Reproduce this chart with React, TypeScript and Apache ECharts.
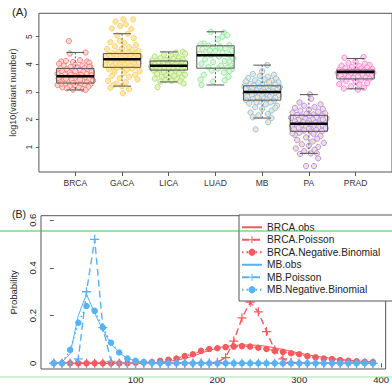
import React, { useEffect, useRef } from "react";
import * as echarts from "echarts";

// ---------- Panel A data ----------
const categories = ["BRCA", "GACA", "LICA", "LUAD", "MB", "PA", "PRAD"];
const boxMin = [3.07, 3.21, 3.36, 3.25, 2.05, 0.77, 3.11];
const boxQ1 = [3.32, 3.89, 3.79, 3.86, 2.7, 1.57, 3.47];
const boxMed = [3.57, 4.18, 3.95, 4.33, 3.0, 1.84, 3.72];
const boxQ3 = [3.85, 4.39, 4.12, 4.67, 3.22, 2.15, 3.79];
const boxMax = [4.43, 5.11, 4.45, 5.18, 3.97, 2.9, 4.21];
const yTicksA = [1, 2, 3, 4, 5];

// jittered points: [horizontal jitter, log10(variant number)]
const brcaPts = [[-0.14,4.84],[0.22,4.43],[-0.12,4.39],[-0.3,4.1],[-0.2,4.12],[-0.05,4.08],[0.1,4.15],[0.25,4.1],[0.3,4.05],[-0.35,4.02],[0,3.98],[0.15,3.95],[-0.25,3.95],[0.32,3.92],[-0.1,3.9],[0.05,3.88],[0.2,3.86],[-0.32,3.85],[-0.18,3.82],[0.1,3.8],[0.28,3.78],[-0.05,3.77],[-0.28,3.75],[0.17,3.73],[0.35,3.72],[-0.12,3.7],[0.02,3.68],[-0.38,3.66],[0.24,3.65],[-0.22,3.63],[0.12,3.61],[-0.02,3.6],[0.33,3.58],[-0.3,3.57],[0.07,3.55],[-0.15,3.54],[0.2,3.52],[-0.36,3.5],[0,3.49],[0.3,3.47],[-0.08,3.45],[-0.25,3.44],[0.15,3.42],[0.38,3.41],[-0.18,3.39],[0.05,3.37],[-0.32,3.35],[0.25,3.34],[-0.05,3.32],[0.12,3.3],[-0.22,3.28],[0.32,3.27],[-0.38,3.25],[0,3.24],[0.2,3.22],[-0.12,3.2],[0.28,3.18],[-0.28,3.17],[0.08,3.15],[-0.18,3.13],[0.16,3.1],[-0.05,3.08],[0.22,3.07],[-0.3,3.3],[0.35,3.6],[-0.1,3.62],[0.3,3.9],[-0.2,3.48],[0.1,3.45],[0,3.75]];
const gacaPts = [[0.03,5.63],[0.24,5.63],[-0.14,5.55],[-0.04,5.39],[0.08,5.45],[-0.22,5.3],[0.2,5.28],[0.12,5.11],[-0.1,5.05],[0.25,4.95],[-0.05,4.85],[0.05,4.78],[-0.25,4.8],[0.3,4.7],[0.15,4.62],[-0.15,4.65],[0,4.58],[-0.32,4.55],[0.22,4.52],[0.35,4.48],[-0.08,4.45],[0.1,4.42],[-0.2,4.4],[0.28,4.38],[0.02,4.36],[-0.28,4.34],[0.18,4.32],[-0.12,4.3],[0.38,4.28],[0.06,4.26],[-0.35,4.25],[0.25,4.23],[-0.02,4.22],[0.14,4.2],[-0.18,4.19],[0.32,4.18],[-0.3,4.16],[0.08,4.15],[-0.08,4.13],[0.2,4.12],[0,4.1],[-0.24,4.08],[0.36,4.06],[0.12,4.05],[-0.14,4.03],[0.26,4.01],[-0.04,4],[0.05,3.98],[-0.36,3.97],[0.18,3.95],[-0.2,3.93],[0.3,3.92],[0,3.9],[-0.1,3.88],[0.22,3.85],[-0.28,3.82],[0.1,3.8],[0.38,3.75],[-0.16,3.72],[0.04,3.68],[0.28,3.62],[-0.22,3.58],[0.15,3.55],[-0.05,3.5],[0.33,3.45],[-0.3,3.4],[0.08,3.35],[-0.12,3.3],[-0.18,3.25],[0,3.21],[-0.25,3.15],[0.02,2.95],[0.15,3.1]];
const licaPts = [[-0.24,3.17],[0.3,4.45],[0.15,4.42],[0.35,4.38],[-0.1,4.35],[0.05,4.3],[-0.3,4.28],[0.22,4.25],[-0.18,4.22],[0.1,4.2],[0.3,4.18],[-0.05,4.16],[-0.35,4.14],[0.18,4.12],[0,4.1],[-0.22,4.08],[0.28,4.06],[0.08,4.04],[-0.12,4.03],[0.36,4.01],[-0.3,4],[0.14,3.98],[-0.02,3.97],[0.24,3.95],[-0.16,3.94],[0.05,3.92],[-0.38,3.91],[0.32,3.9],[-0.08,3.88],[0.18,3.87],[-0.26,3.85],[0,3.84],[0.1,3.82],[-0.2,3.8],[0.28,3.79],[-0.32,3.77],[0.15,3.75],[-0.1,3.72],[0.05,3.7],[0.22,3.68],[-0.25,3.65],[0.35,3.62],[-0.05,3.6],[0.12,3.58],[-0.15,3.55],[0.28,3.52],[0,3.5],[-0.3,3.48],[0.18,3.45],[-0.08,3.42],[0.06,3.4],[0.25,3.38],[-0.18,3.37],[0.32,3.3]];
const luadPts = [[-0.1,5.18],[0.18,5.15],[0.25,5.05],[0.15,5],[0.05,4.9],[-0.25,4.75],[-0.32,4.72],[0.3,4.7],[-0.15,4.68],[0.1,4.65],[-0.05,4.62],[0.22,4.58],[-0.28,4.55],[0.35,4.5],[0,4.48],[-0.2,4.45],[0.15,4.42],[-0.35,4.38],[0.28,4.35],[-0.1,4.32],[0.08,4.28],[0.38,4.22],[-0.22,4.18],[0.2,4.12],[-0.05,4.08],[-0.3,4.02],[0.32,3.98],[0.12,3.95],[-0.15,3.9],[0.25,3.88],[0.05,3.85],[0.35,3.82],[-0.08,3.78],[0.3,3.75],[0.18,3.7],[-0.25,3.62],[0.28,3.55],[-0.32,3.45],[0.2,3.42],[-0.05,3.38],[-0.3,3.25],[0.1,4.6],[-0.12,4.5],[0.3,4.1]];
const mbPts = [[0.11,3.97],[0,3.75],[-0.2,3.65],[0.25,3.62],[-0.05,3.58],[0.12,3.55],[-0.3,3.5],[0.3,3.48],[0.05,3.45],[-0.15,3.42],[0.2,3.4],[-0.35,3.38],[0.35,3.35],[-0.08,3.33],[0.1,3.3],[-0.25,3.28],[0.28,3.27],[0,3.25],[-0.18,3.23],[0.16,3.22],[-0.38,3.2],[0.38,3.18],[-0.05,3.17],[0.08,3.15],[-0.22,3.13],[0.24,3.12],[0.02,3.1],[-0.3,3.08],[0.32,3.07],[-0.12,3.05],[0.14,3.04],[-0.02,3.02],[0.22,3.01],[-0.26,3],[0.06,2.99],[-0.16,2.97],[0.3,2.96],[-0.36,2.95],[0.12,2.93],[-0.06,2.92],[0.2,2.9],[-0.22,2.88],[0.36,2.87],[0,2.85],[-0.32,2.83],[0.16,2.82],[-0.1,2.8],[0.28,2.78],[0.04,2.76],[-0.2,2.74],[0.1,2.72],[-0.34,2.7],[0.25,2.68],[-0.06,2.65],[0.18,2.62],[-0.28,2.58],[0.08,2.55],[0.32,2.5],[-0.15,2.45],[0,2.38],[0.2,2.32],[-0.25,2.25],[0.12,2.2],[-0.08,2.15],[-0.2,2.08],[0.2,2.05],[0.28,2.42],[-0.35,3.1],[0.15,3.35],[-0.12,2.62],[-0.14,1.64],[0.13,1.9]];
const paPts = [[0.02,2.91],[0.05,2.75],[-0.2,2.62],[0.25,2.55],[-0.1,2.5],[0.12,2.45],[-0.3,2.42],[0.3,2.38],[0,2.35],[-0.18,2.32],[0.2,2.28],[-0.35,2.25],[0.35,2.22],[-0.05,2.2],[0.1,2.18],[-0.25,2.16],[0.28,2.14],[0.02,2.12],[-0.15,2.1],[0.16,2.08],[-0.38,2.06],[0.38,2.04],[-0.08,2.02],[0.08,2],[-0.22,1.98],[0.24,1.96],[0,1.95],[-0.3,1.93],[0.32,1.91],[-0.12,1.9],[0.14,1.88],[-0.02,1.86],[0.22,1.85],[-0.26,1.84],[0.06,1.82],[-0.16,1.8],[0.3,1.79],[-0.36,1.77],[0.12,1.75],[-0.06,1.73],[0.2,1.72],[-0.22,1.7],[0.36,1.68],[0,1.66],[-0.32,1.64],[0.16,1.62],[-0.1,1.6],[0.28,1.58],[0.04,1.56],[-0.2,1.52],[0.1,1.48],[-0.3,1.44],[0.25,1.4],[-0.06,1.35],[0.18,1.3],[-0.25,1.25],[0.08,1.2],[0.32,1.15],[-0.15,1.1],[0,1.05],[0.2,1],[-0.28,0.95],[0.12,0.9],[-0.1,0.85],[-0.19,0.75],[0.04,0.77],[0.17,0.77],[0.2,0.59],[-0.06,0.31],[0.11,0.31],[-0.35,1.5],[0.3,2]];
const pradPts = [[-0.24,4.24],[0.17,4.26],[0,4.1],[-0.15,4.05],[0.2,4.02],[0.3,3.98],[-0.3,3.95],[0.08,3.93],[-0.08,3.9],[0.25,3.88],[-0.22,3.86],[0.12,3.84],[0.36,3.82],[-0.35,3.8],[0.02,3.79],[-0.12,3.78],[0.18,3.77],[-0.28,3.76],[0.3,3.75],[0.06,3.74],[-0.05,3.73],[0.22,3.72],[-0.18,3.71],[0.38,3.7],[-0.38,3.69],[0.1,3.68],[-0.1,3.67],[0.28,3.66],[0,3.65],[-0.25,3.63],[0.15,3.62],[-0.32,3.6],[0.34,3.58],[0.05,3.56],[-0.15,3.54],[0.22,3.52],[-0.05,3.5],[0.3,3.48],[-0.28,3.46],[0.12,3.44],[-0.2,3.4],[0,3.36],[0.25,3.32],[-0.35,3.28],[0.08,3.25],[-0.1,3.2],[0.18,3.15],[-0.25,3.12],[0.05,3.08]];
const groupPts = [brcaPts, gacaPts, licaPts, luadPts, mbPts, paPts, pradPts];
const groupStroke = ["#F47C7C", "#F6D06A", "#A6E07A", "#8CE6A6", "#84C0F0", "#B28AF0", "#FF7ED6"];
const groupFill = ["#FFD3C6", "#FCE6A2", "#E2F1B4", "#DDF4CF", "#F3E3C8", "#EEDCCB", "#FFD2E6"];

// ---------- Panel B data ----------
const bins = [0,10,20,30,40,50,60,70,80,90,100,110,120,130,140,150,160,170,180,190,200,210,220,230,240,250,260,270,280,290,300,310,320,330,340,350,360,370,380,390];
const brcaObs = [0,0,0,0,0,0,0,0,0,0,0,0,0.002,0.004,0.008,0.013,0.02,0.03,0.042,0.054,0.064,0.071,0.075,0.077,0.077,0.075,0.071,0.065,0.058,0.05,0.043,0.036,0.03,0.025,0.02,0.016,0.013,0.01,0.008,0.006];
const brcaPois = [0,0,0,0,0,0,0,0,0,0,0,0,0,0,0,0,0,0,0,0,0.004,0.024,0.093,0.19,0.256,0.216,0.133,0.056,0.018,0.004,0,0,0,0,0,0,0,0,0,0];
const brcaNB = [0,0,0,0,0,0,0,0,0,0,0.002,0.003,0.005,0.01,0.015,0.02,0.03,0.038,0.052,0.06,0.063,0.068,0.07,0.072,0.07,0.065,0.06,0.052,0.048,0.042,0.038,0.03,0.025,0.02,0.018,0.013,0.01,0.008,0.006,0.005];
const mbObs = [0,0.005,0.04,0.2,0.29,0.21,0.14,0.08,0.045,0.02,0.01,0.006,0.004,0.002,0.001,0,0,0,0,0,0,0,0,0,0,0,0,0,0,0,0,0,0,0,0,0,0,0,0,0];
const mbPois = [0,0,0,0.018,0.3,0.52,0.15,0.008,0,0,0,0,0,0,0,0,0,0,0,0,0,0,0,0,0,0,0,0,0,0,0,0,0,0,0,0,0,0,0,0];
const mbNB = [0,0,0.056,0.17,0.24,0.22,0.15,0.086,0.045,0.02,0.01,0.005,0.002,0.001,0,0,0,0,0,0,0,0,0,0,0,0,0,0,0,0,0,0,0,0,0,0,0,0,0,0];
const xTicksB = [100, 200, 300, 400];
const yTicksB = [0, 0.2, 0.4, 0.6];

const RED = "#F55A5E";
const BLUE = "#56B2F3";
const FONT = "Liberation Sans, Arial, sans-serif";
const PLUS = "path://M0,4.3H10V5.7H0Z M4.3,0H5.7V10H4.3Z";

function pairs(ys: number[]) {
  return bins.map((x, i) => [x, ys[i]]);
}

export default function App() {
  const ref = useRef<HTMLDivElement>(null);
  useEffect(() => {
    if (!ref.current) return;
    const chart = echarts.init(ref.current, undefined, { renderer: "svg" });

    const boxData = categories.map((_, i) => [i + 1, boxMin[i], boxQ1[i], boxMed[i], boxQ3[i], boxMax[i]]);

    const scatterSeries = groupPts.map((pts, gi) => ({
      type: "scatter",
      name: categories[gi],
      xAxisIndex: 0,
      yAxisIndex: 0,
      z: 2,
      symbol: "circle",
      symbolSize: 5.3,
      itemStyle: { color: groupFill[gi], borderColor: groupStroke[gi], borderWidth: 1, opacity: 0.9 },
      data: pts.map((p) => [gi + 1 + p[0], p[1]]),
    }));

    const lineCommon = { type: "line", xAxisIndex: 1, yAxisIndex: 1, z: 3 };

    chart.setOption({
      animation: false,
      textStyle: { fontFamily: FONT },
      grid: [
        { left: 31.7, top: 13.3, width: 362, height: 158.7, show: true, borderColor: "#555", borderWidth: 1, backgroundColor: "transparent" },
        { left: 40.7, top: 215.7, width: 349.3, height: 153.3, show: true, borderColor: "#555", borderWidth: 1, backgroundColor: "transparent" },
      ],
      xAxis: [
        {
          type: "value", gridIndex: 0, min: 0.22, max: 7.78,
          axisLine: { show: false }, splitLine: { show: false },
          axisTick: { show: true, length: 4, customValues: [1, 2, 3, 4, 5, 6, 7], lineStyle: { color: "#555" } },
          axisLabel: { customValues: [1, 2, 3, 4, 5, 6, 7], formatter: (v: number) => categories[Math.round(v) - 1] || "", fontSize: 8.5, color: "#333", margin: 6, fontFamily: FONT },
        },
        {
          type: "value", gridIndex: 1, min: -15.6, max: 405.6,
          axisLine: { show: false }, splitLine: { show: false },
          axisTick: { show: true, length: 4, customValues: xTicksB, lineStyle: { color: "#555" } },
          axisLabel: { customValues: xTicksB, fontSize: 9.5, color: "#222", margin: 5, fontFamily: FONT },
        },
      ],
      yAxis: [
        {
          type: "value", gridIndex: 0, min: 0.094, max: 5.85,
          axisLine: { show: false }, splitLine: { show: false },
          axisTick: { show: true, length: 3, customValues: yTicksA, lineStyle: { color: "#555" } },
          axisLabel: { customValues: yTicksA, rotate: 90, fontSize: 8.5, color: "#333", margin: 5, fontFamily: FONT },
          name: "log10(variant number)", nameLocation: "middle", nameGap: 17, nameRotate: 90,
          nameTextStyle: { fontSize: 9, color: "#333", fontFamily: FONT },
        },
        {
          type: "value", gridIndex: 1, min: -0.024, max: 0.619,
          axisLine: { show: false }, splitLine: { show: false },
          axisTick: { show: true, length: 4, customValues: yTicksB, lineStyle: { color: "#555" } },
          axisLabel: { customValues: yTicksB, rotate: 90, fontSize: 9.5, color: "#222", margin: 4, fontFamily: FONT, formatter: (v: number) => (v === 0 ? "0" : String(v)) },
          name: "Probability", nameLocation: "middle", nameGap: 23, nameRotate: 90,
          nameTextStyle: { fontSize: 9.5, color: "#222", fontFamily: FONT },
        },
      ],
      legend: {
        orient: "vertical",
        left: 239, top: 215,
        selectedMode: false,
        data: [
          { name: "BRCA.obs", itemStyle: { opacity: 0 } },
          "BRCA.Poisson",
          "BRCA.Negative.Binomial",
          { name: "MB.obs", itemStyle: { opacity: 0 } },
          "MB.Poisson",
          "MB.Negative.Binomial",
        ],
        itemWidth: 20, itemHeight: 9, itemGap: 2,
        padding: [7, 30, 6, 2],
        borderColor: "#555", borderWidth: 1, borderRadius: 0,
        backgroundColor: "#fff",
        textStyle: { fontSize: 10.2, color: "#222", fontFamily: FONT, lineHeight: 10.5 },
        z: 10,
      },
      series: [
        {
          type: "custom", xAxisIndex: 0, yAxisIndex: 0, z: 3,
          data: boxData,
          encode: { x: 0, y: [1, 2, 3, 4, 5] },
          renderItem: (params: any, api: any) => {
            const x = api.value(0);
            const pMin = api.coord([x, api.value(1)]);
            const pQ1 = api.coord([x, api.value(2)]);
            const pMed = api.coord([x, api.value(3)]);
            const pQ3 = api.coord([x, api.value(4)]);
            const pMax = api.coord([x, api.value(5)]);
            const hw = api.size([0.4, 0])[0];
            const cw = api.size([0.19, 0])[0];
            const cx = pMed[0];
            const grey = "#555";
            return {
              type: "group",
              children: [
                { type: "line", shape: { x1: cx, y1: pMax[1], x2: cx, y2: pQ3[1] }, style: { stroke: grey, lineWidth: 1, lineDash: [2, 2] } },
                { type: "line", shape: { x1: cx, y1: pQ1[1], x2: cx, y2: pMin[1] }, style: { stroke: grey, lineWidth: 1, lineDash: [2, 2] } },
                { type: "line", shape: { x1: cx - cw, y1: pMax[1], x2: cx + cw, y2: pMax[1] }, style: { stroke: grey, lineWidth: 1 } },
                { type: "line", shape: { x1: cx - cw, y1: pMin[1], x2: cx + cw, y2: pMin[1] }, style: { stroke: grey, lineWidth: 1 } },
                { type: "rect", shape: { x: cx - hw, y: pQ3[1], width: 2 * hw, height: pQ1[1] - pQ3[1] }, style: { fill: "none", stroke: grey, lineWidth: 1 } },
                { type: "line", shape: { x1: cx - hw, y1: pMed[1], x2: cx + hw, y2: pMed[1] }, style: { stroke: "#000", lineWidth: 2.5 } },
              ],
            };
          },
        },
        ...scatterSeries,
        {
          ...lineCommon, name: "BRCA.obs", data: pairs(brcaObs), showSymbol: false, symbol: "none",
          lineStyle: { color: RED, width: 1 }, itemStyle: { color: RED },
        },
        {
          ...lineCommon, name: "BRCA.Poisson", data: pairs(brcaPois), symbol: PLUS, symbolSize: 9, showSymbol: true,
          lineStyle: { color: RED, width: 1.4, type: [7, 4] }, itemStyle: { color: RED },
        },
        {
          ...lineCommon, name: "BRCA.Negative.Binomial", data: pairs(brcaNB), symbol: "circle", symbolSize: 6.5, showSymbol: true,
          lineStyle: { color: RED, width: 1.5, type: [1.5, 3] }, itemStyle: { color: RED },
        },
        {
          ...lineCommon, name: "MB.obs", data: pairs(mbObs), showSymbol: false, symbol: "none",
          lineStyle: { color: BLUE, width: 1 }, itemStyle: { color: BLUE },
        },
        {
          ...lineCommon, name: "MB.Poisson", data: pairs(mbPois), symbol: PLUS, symbolSize: 9, showSymbol: true,
          lineStyle: { color: BLUE, width: 1.4, type: [7, 4] }, itemStyle: { color: BLUE },
        },
        {
          ...lineCommon, name: "MB.Negative.Binomial", data: pairs(mbNB), symbol: "circle", symbolSize: 6.5, showSymbol: true,
          lineStyle: { color: BLUE, width: 1.5, type: [1.5, 3] }, itemStyle: { color: BLUE },
        },
      ],
      graphic: [
        { type: "text", left: 12, top: 6, z: 20, style: { text: "(A)", fontSize: 11.5, fill: "#222", fontFamily: FONT } },
        { type: "text", left: 12, top: 208, z: 20, style: { text: "(B)", fontSize: 10.5, fill: "#222", fontFamily: FONT } },
        { type: "line", z: 30, shape: { x1: 0, y1: 231, x2: 392, y2: 231 }, style: { stroke: "#3DC83D", lineWidth: 1.2 } },
        { type: "line", z: 30, shape: { x1: 0, y1: 377, x2: 392, y2: 377 }, style: { stroke: "#A2E4A2", lineWidth: 1.2 } },
      ],
    });
    return () => chart.dispose();
  }, []);
  return <div ref={ref} style={{ position: "fixed", left: 0, top: 0, width: 392, height: 387, background: "#fff" }} />;
}
